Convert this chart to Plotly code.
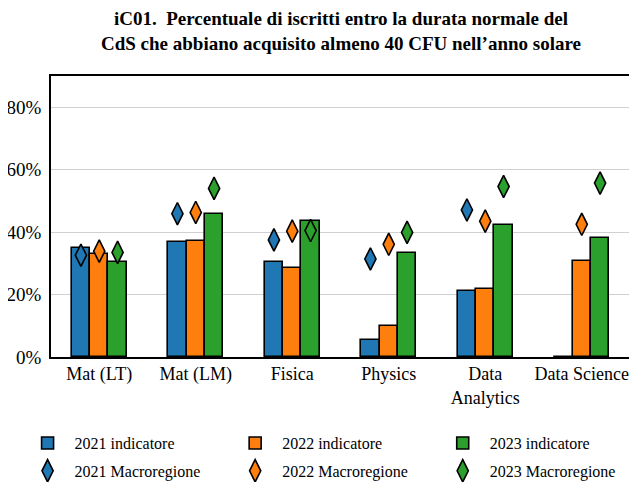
'''
    Grouped bar chart of iC01 with Macroregione reference diamonds.
'''
import plotly.graph_objects as go

# Degree courses shown on the x axis
categories = ["Mat (LT)", "Mat (LM)", "Fisica", "Physics", "Data<br>Analytics", "Data Science"]
years = ["2021", "2022", "2023"]

# Indicator values (fraction of enrolled students)
ind_2021 = [0.348, 0.367, 0.305, 0.055, 0.212, 0.0]
ind_2022 = [0.329, 0.371, 0.286, 0.100, 0.218, 0.307]
ind_2023 = [0.303, 0.457, 0.437, 0.333, 0.422, 0.382]

# Macroregione reference values
macro_2021 = [0.326, 0.459, 0.375, 0.314, 0.471, None]
macro_2022 = [0.339, 0.463, 0.403, 0.361, 0.435, 0.425]
macro_2023 = [0.335, 0.540, 0.405, 0.399, 0.546, 0.557]

y_ticks = [0, 0.2, 0.4, 0.6, 0.8]

COLORS = ["#1f77b4", "#ff7f0e", "#2ca02c"]
FONT = "Liberation Serif"
BAR_W = 0.19

fig = go.Figure()
idx = list(range(len(categories)))
offsets = [-BAR_W, 0, BAR_W]
legend_ids = ["legend", "legend2", "legend3"]

# one legend column per year: bar entry on top, diamond below
for year, vals, color, off, leg in zip(years, [ind_2021, ind_2022, ind_2023], COLORS, offsets, legend_ids):
    fig.add_trace(go.Bar(
        x=[i + off for i in idx], y=vals, width=BAR_W,
        name=f"{year} indicatore", legend=leg, legendgroup=f"b{year}",
        marker=dict(color=color, line=dict(color="black", width=1.6)),
    ))

for year, vals, color, off, leg in zip(years, [macro_2021, macro_2022, macro_2023], COLORS, offsets, legend_ids):
    fig.add_trace(go.Scatter(
        x=[i + off for i in idx], y=vals, mode="markers",
        name=f"{year} Macroregione", legend=leg, legendgroup=f"m{year}",
        marker=dict(symbol="diamond-tall", size=16, color=color,
                    line=dict(color="black", width=1.6)),
    ))

# Title as an annotation so both lines stay inside the page
fig.add_annotation(
    text="<b>iC01.  Percentuale di iscritti entro la durata normale del<br>"
         "CdS che abbiano acquisito almeno 40 CFU nell\u2019anno solare</b>",
    xref="paper", yref="paper", x=0.5, y=1.07, xanchor="center", yanchor="bottom",
    showarrow=False, font=dict(family=FONT, size=19),
)


def legend_box(x):
    return dict(
        xref="container", yref="container", x=x, xanchor="left",
        y=0.118, yanchor="top", orientation="v",
        font=dict(family=FONT, size=16), tracegroupgap=4,
        itemwidth=44, bgcolor="rgba(0,0,0,0)",
    )


# The page body adds ~8px of margin, so the figure is a bit smaller
fig.update_layout(
    width=629, height=474,
    margin=dict(l=43, r=7, t=68, b=125, autoexpand=False),
    paper_bgcolor="white", plot_bgcolor="white",
    font=dict(family=FONT, size=17, color="black"),
    showlegend=True,
    legend=legend_box(0.02),
    legend2=legend_box(0.35),
    legend3=legend_box(0.68),
    bargap=0,
)

fig.update_xaxes(
    range=[-0.5, len(categories) - 0.5],
    tickmode="array", tickvals=idx, ticktext=categories,
    showgrid=False, zeroline=False, automargin=False,
    showline=True, linecolor="black", linewidth=1.5, mirror=True,
    ticks="", tickfont=dict(size=18),
)
fig.update_yaxes(
    range=[0, 0.9],
    tickmode="array", tickvals=y_ticks, tickformat=".0%",
    showgrid=True, gridcolor="#d0d0d0", gridwidth=1,
    zeroline=False, automargin=False,
    showline=True, linecolor="black", linewidth=1.5, mirror=True,
    ticks="", tickfont=dict(size=19), ticklabelstandoff=4,
)

fig.write_html("out.html")
